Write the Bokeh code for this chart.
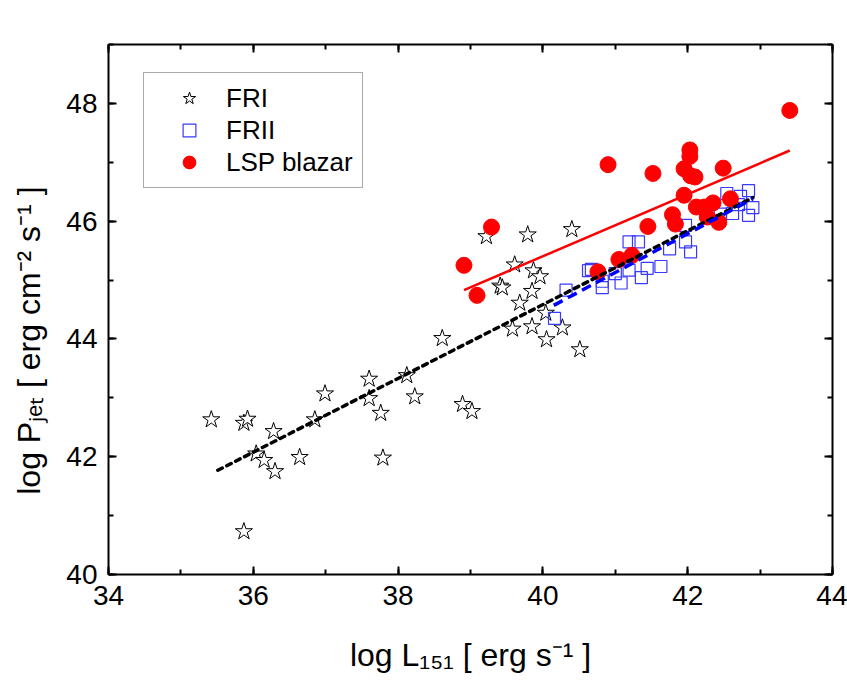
from bokeh.plotting import figure
from bokeh.models import (LinearAxis, SingleIntervalTicker, Legend,
                          LegendItem, Range1d)
from bokeh.embed import file_html
from bokeh.resources import INLINE

# ---------------- data ----------------
fri_x = [35.42, 35.87, 35.92, 36.28, 36.04, 36.15, 36.30, 36.64, 36.85, 36.99,
         37.60, 37.60, 37.76, 37.79, 38.12, 38.23, 38.61, 38.89, 39.02, 39.58,
         39.68, 39.85, 40.04, 40.05, 40.27, 40.51, 35.87, 39.22, 39.79, 40.40,
         39.61, 39.87, 39.96, 39.41, 39.44, 39.85]
fri_y = [42.63, 42.57, 42.64, 42.43, 42.05, 41.94, 41.75, 41.99, 42.63, 43.07,
         43.32, 42.99, 42.74, 41.98, 43.38, 43.02, 44.01, 42.89, 42.77, 44.17,
         44.61, 44.21, 44.44, 43.99, 44.19, 43.82, 40.73, 45.74, 45.77, 45.86,
         45.26, 45.16, 45.06, 44.90, 44.87, 44.81]

frii_x = [40.16, 40.32, 40.63, 40.67, 40.82, 40.82, 41.00, 41.08, 41.19, 41.32,
          41.19, 41.36, 41.44, 41.63, 41.75, 41.97, 41.97, 42.04, 42.54, 42.73,
          42.84, 42.90, 42.84, 42.62, 42.45, 42.70]
frii_y = [44.35, 44.83, 45.16, 45.18, 44.98, 44.87, 45.11, 44.95, 45.65, 45.65,
          45.17, 45.04, 45.20, 45.23, 45.53, 45.93, 45.65, 45.48, 46.47, 46.42,
          46.52, 46.23, 46.10, 46.13, 46.12, 46.28]

lsp_x = [43.41, 40.90, 41.52, 42.03, 42.03, 41.95, 42.04, 42.10, 42.49, 41.95,
         42.12, 42.23, 42.35, 42.27, 42.43, 42.59, 41.79, 41.83, 41.45, 41.23,
         41.05, 40.76, 39.29, 38.91, 39.09]
lsp_y = [47.88, 46.96, 46.81, 47.21, 47.10, 46.89, 46.77, 46.75, 46.90, 46.44,
         46.24, 46.24, 46.31, 46.07, 45.98, 46.38, 46.11, 45.95, 45.91, 45.42,
         45.35, 45.14, 45.90, 45.25, 44.74]

fit_lsp_x = [38.91, 43.41]
fit_lsp_y = [44.83, 47.20]
fit_all_x = [35.51, 42.90]
fit_all_y = [41.77, 46.40]
fit_frii_x = [40.15, 42.90]
fit_frii_y = [44.57, 46.38]

legend_labels = ["FRI", "FRII", "LSP blazar"]
x_title = "log L\u2081\u2085\u2081 [ erg s\u207b\u00b9 ]"
y_title = "log P\u2c7c\u2091\u209c [ erg cm\u207b\u00b2 s\u207b\u00b9 ]"

# ---------------- figure ----------------
FONT = "Liberation Sans"
FL, FT, FR, FB = 108, 44, 832, 574     # frame edges on the page (px)
p = figure(width=847, height=689, x_range=Range1d(34, 44), y_range=Range1d(40, 49),
           output_backend="svg", toolbar_location=None,
           min_border_left=FL, min_border_right=847 - FR,
           min_border_top=FT, min_border_bottom=689 - FB,
           background_fill_color="white", border_fill_color="white")
p.grid.visible = False
p.outline_line_color = None

bottom_ax = p.below[0]
left_ax = p.left[0]


def style_axis(ax, show):
    ax.ticker = SingleIntervalTicker(interval=2, num_minor_ticks=2)
    ax.axis_line_width = 2
    ax.axis_line_color = "black"
    ax.major_tick_in = 8
    ax.major_tick_out = 0
    ax.minor_tick_in = 5
    ax.minor_tick_out = 0
    ax.major_tick_line_width = 2
    ax.minor_tick_line_width = 2
    ax.major_tick_line_color = "black"
    ax.minor_tick_line_color = "black"
    ax.major_label_text_font = FONT
    ax.axis_label_text_font = FONT
    ax.axis_label_text_font_style = "normal"
    ax.axis_label_text_color = "black"
    ax.axis_label_text_font_size = "32px"
    if show:
        ax.major_label_text_color = "black"
        ax.major_label_text_font_size = "28px"
        ax.major_label_standoff = 11
    else:
        ax.major_label_text_color = None
        ax.major_label_text_font_size = "0px"
        ax.major_label_standoff = 0


style_axis(bottom_ax, True)
style_axis(left_ax, True)
top_ax = LinearAxis()
right_ax = LinearAxis()
style_axis(top_ax, False)
style_axis(right_ax, False)
p.add_layout(top_ax, "above")
p.add_layout(right_ax, "right")

bottom_ax.axis_label = x_title
bottom_ax.axis_label_standoff = 29
left_ax.axis_label = y_title + "\u00a0" * 7
left_ax.axis_label_standoff = 16

r_fri = p.scatter(fri_x, fri_y, marker="star", size=18, fill_color="white",
                  line_color="black", line_width=1)
r_frii = p.scatter(frii_x, frii_y, marker="square", size=12, fill_color=None,
                   line_color="#3a3aff", line_width=1.2)
r_lsp = p.scatter(lsp_x, lsp_y, marker="circle", size=16, fill_color="#ff0000",
                  line_color="#ff0000", line_width=1)

p.line(fit_all_x, fit_all_y, line_color="black", line_width=3.5,
       line_dash="5 5", line_cap="round")
p.line(fit_frii_x, fit_frii_y, line_color="#0000ff", line_width=3.5,
       line_dash="10 6")
p.line(fit_lsp_x, fit_lsp_y, line_color="#ff0000", line_width=2.5)

legend = Legend(items=[LegendItem(label=legend_labels[0], renderers=[r_fri]),
                       LegendItem(label=legend_labels[1], renderers=[r_frii]),
                       LegendItem(label=legend_labels[2], renderers=[r_lsp])],
                location=(35, 386))
legend.label_text_font = FONT
legend.label_text_font_size = "26px"
legend.label_text_color = "black"
legend.padding = 9
legend.spacing = 0
legend.margin = 0
legend.glyph_height = 32
legend.glyph_width = 72
legend.label_height = 32
legend.label_standoff = 1
legend.border_line_color = "#555555"
legend.border_line_width = 1
legend.background_fill_color = "white"
legend.background_fill_alpha = 1
p.add_layout(legend)

open("out.html", "w").write(file_html(p, INLINE))
